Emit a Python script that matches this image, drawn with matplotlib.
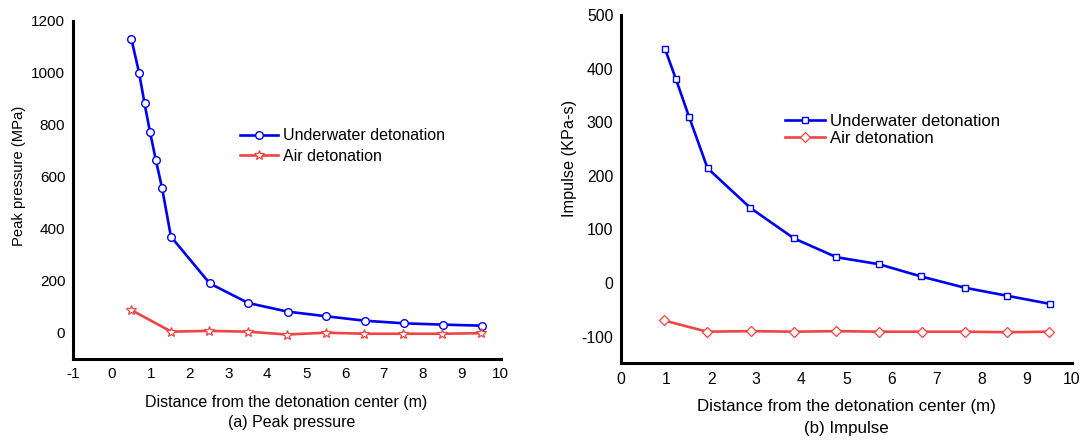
import matplotlib
matplotlib.use("Agg")
import matplotlib.pyplot as plt

plt.rcParams['font.family'] = ['Liberation Sans', 'DejaVu Sans']
plt.rcParams['axes.unicode_minus'] = False

# (a) Peak pressure
pp_under_x = [0.5, 0.7, 0.84, 0.98, 1.13, 1.29, 1.52, 2.52, 3.51, 4.52, 5.52, 6.51, 7.52, 8.52, 9.52]
pp_under_y = [1130, 1000, 882, 773, 665, 558, 370, 190, 115, 82, 64, 47, 37, 32, 28]
pp_air_x = [0.5, 1.53, 2.5, 3.5, 4.5, 5.5, 6.5, 7.5, 8.5, 9.5]
pp_air_y = [88, 5, 8, 5, -6, 1, -3, -3, -3, -1]

# (b) Impulse
im_under_x = [0.98, 1.22, 1.51, 1.92, 2.87, 3.84, 4.78, 5.72, 6.66, 7.63, 8.57, 9.51]
im_under_y = [436, 380, 310, 214, 140, 83, 48, 35, 12, -9, -24, -39]
im_air_x = [0.95, 1.91, 2.88, 3.84, 4.78, 5.73, 6.68, 7.63, 8.57, 9.5]
im_air_y = [-70, -91, -90, -91, -90, -91, -91, -91, -92, -91]

x_ticks_a = list(range(-1, 11))
y_ticks_a = [0, 200, 400, 600, 800, 1000, 1200]
x_ticks_b = list(range(0, 11))
y_ticks_b = [-100, 0, 100, 200, 300, 400, 500]

BLUE = '#0000F0'
RED = '#F04444'

fig = plt.figure(figsize=(10.83, 4.41), dpi=100)
W, H = 1083, 441
ax1 = fig.add_axes([73 / W, (H - 359) / H, (500.5 - 73) / W, (359 - 20.5) / H])
ax2 = fig.add_axes([621 / W, (H - 363.3) / H, (1071.7 - 621) / W, (363.3 - 15) / H])

def style(ax, fs):
    for s in ['top', 'right']:
        ax.spines[s].set_visible(False)
    for s in ['left', 'bottom']:
        ax.spines[s].set_linewidth(2.2)
        ax.spines[s].set_color('black')
    ax.tick_params(axis='x', length=0, labelsize=fs, pad=6)
    ax.tick_params(axis='y', length=0, labelsize=fs, pad=5.5)

ax1.plot(pp_under_x, pp_under_y, color=BLUE, lw=1.9, marker='o', ms=5.5,
         mfc='white', mec=BLUE, mew=1.0, label='Underwater detonation')
ax1.plot(pp_air_x, pp_air_y, color=RED, lw=1.9, marker='*', ms=7.5,
         mfc='white', mec=RED, mew=0.9, label='Air detonation')
ax1.set_xlim(-1, 10)
ax1.set_ylim(-100, 1200)
ax1.set_xticks(x_ticks_a)
ax1.set_yticks(y_ticks_a)
style(ax1, 11)
ax1.legend(loc='center left', bbox_to_anchor=(0.39, 0.629), frameon=False,
           fontsize=11.5, handlelength=2.4, handletextpad=0.3, borderpad=0,
           borderaxespad=0, labelspacing=0.35)

ax2.plot(im_under_x, im_under_y, color=BLUE, lw=1.9, marker='s', ms=5,
         mfc='white', mec=BLUE, mew=1.0, label='Underwater detonation')
ax2.plot(im_air_x, im_air_y, color=RED, lw=1.9, marker='D', ms=5.5,
         mfc='white', mec=RED, mew=0.9, label='Air detonation')
ax2.set_xlim(0, 10)
ax2.set_ylim(-150, 500)
ax2.set_xticks(x_ticks_b)
ax2.set_yticks(y_ticks_b)
style(ax2, 11.3)
ax2.legend(loc='center left', bbox_to_anchor=(0.364, 0.670), frameon=False,
           fontsize=12.1, handlelength=2.4, handletextpad=0.3, borderpad=0,
           borderaxespad=0, labelspacing=0.15)

# axis titles
fig.text(19.5 / W, 1 - 176 / H, 'Peak pressure (MPa)', rotation=90,
         ha='center', va='center', fontsize=10.6)
fig.text(569.5 / W, 1 - 158 / H, 'Impulse (KPa-s)', rotation=90,
         ha='center', va='center', fontsize=11.7)
fig.text(286.5 / W, 1 - 403 / H, 'Distance from the detonation center (m)',
         ha='center', va='center', fontsize=11.5)
fig.text(292 / W, 1 - 423 / H, '(a) Peak pressure',
         ha='center', va='center', fontsize=11.5)
fig.text(846 / W, 1 - 407 / H, 'Distance from the detonation center (m)',
         ha='center', va='center', fontsize=12.2)
fig.text(846 / W, 1 - 429 / H, '(b) Impulse',
         ha='center', va='center', fontsize=12.2)

fig.savefig('out.png', dpi=100)
